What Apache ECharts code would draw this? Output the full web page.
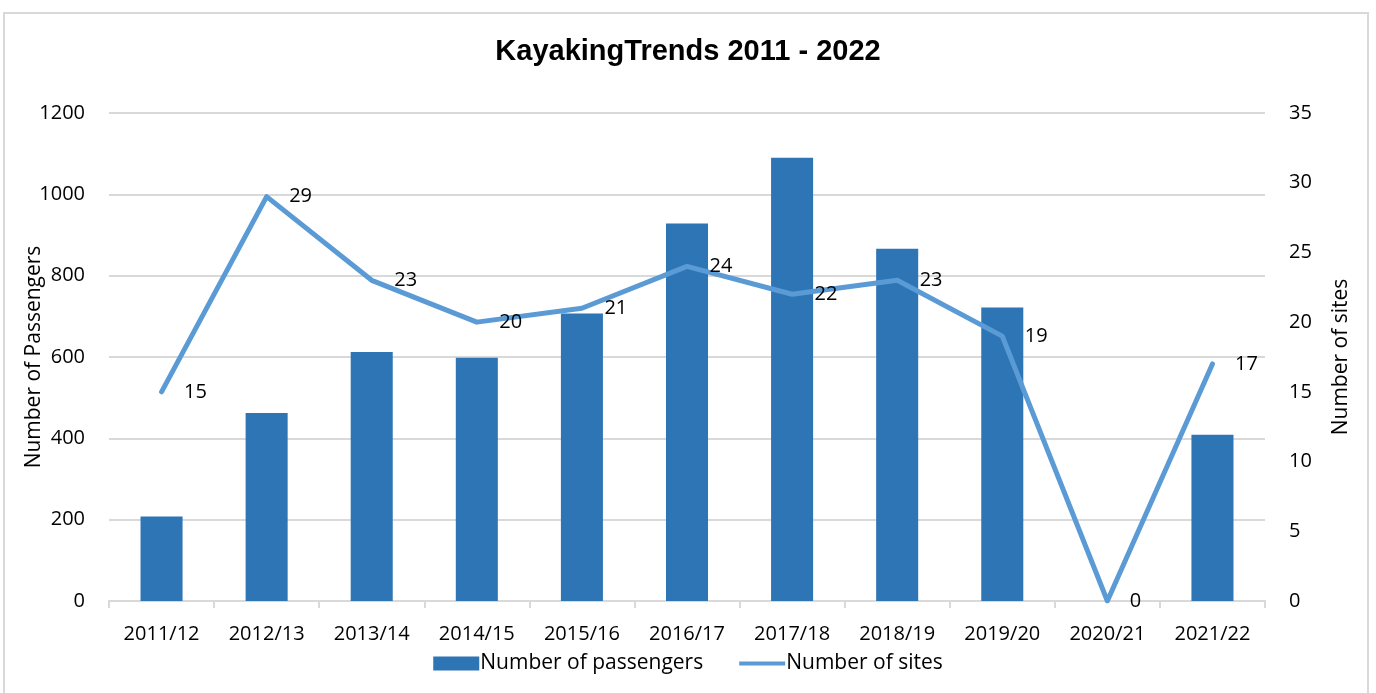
<!DOCTYPE html>
<html>
<head>
<meta charset="utf-8">
<script src="https://cdn.jsdelivr.net/npm/echarts@6/dist/echarts.min.js"></script>
<style>
    html, body { margin: 0; padding: 0; background: #fff; }
    #kayakChart { width: 1376px; height: 693px; }
    .frame {
        position: absolute; left: 3px; top: 12px; width: 1366px; height: 700px;
        border: 2px solid #d9d9d9; box-sizing: border-box; pointer-events: none;
    }
</style>
</head>
<body>
<div class="frame"></div>
<div id="kayakChart"></div>
<script>
    // 数据
    const seasons = ['2011/12', '2012/13', '2013/14', '2014/15', '2015/16', '2016/17', '2017/18', '2018/19', '2019/20', '2020/21', '2021/22']
    const passengers = [208, 462, 612, 598, 707, 928, 1090, 866, 722, 0, 409]
    const sites = [15, 29, 23, 20, 21, 24, 22, 23, 19, 0, 17]

    const labelFont = 'Open Sans'
    const textColor = '#000'

    const myChart = echarts.init(document.getElementById('kayakChart'))
    const option = {
        animation: false,
        title: {
            text: 'KayakingTrends 2011 - 2022',
            left: 'center',
            top: 32,
            textStyle: { fontFamily: 'Liberation Sans', fontWeight: 'bold', fontSize: 29, color: textColor }
        },
        // 固定网格位置，不让标签把网格挤开
        grid: { left: 109, right: 111, top: 113, bottom: 92, outerBoundsMode: 'none' },
        legend: {
            bottom: 14,
            left: 'center',
            itemGap: 36,
            itemWidth: 46,
            itemHeight: 14,
            textStyle: { fontFamily: labelFont, fontSize: 21, color: textColor, padding: [0, 0, 0, -4] },
            data: [
                { name: 'Number of passengers', icon: 'rect' },
                // 图例里的线条
                { name: 'Number of sites', icon: 'path://M0,0 L58,0 L58,5 L0,5 Z', itemStyle: { color: '#5b9bd5' } }
            ]
        },
        xAxis: {
            type: 'category',
            data: seasons,
            axisLine: { lineStyle: { color: '#d9d9d9', width: 2 } },
            axisTick: { show: true, length: 7, lineStyle: { color: '#d9d9d9', width: 2 } },
            axisLabel: { fontFamily: labelFont, fontSize: 20, color: textColor, margin: 23 }
        },
        yAxis: [
            {
                type: 'value', min: 0, max: 1200, interval: 200,
                name: 'Number of Passengers',
                nameLocation: 'middle',
                nameGap: 64,
                nameMoveOverlap: false,
                nameTextStyle: { fontFamily: labelFont, fontSize: 21, color: textColor },
                axisLabel: { fontFamily: labelFont, fontSize: 20, color: textColor, margin: 24, formatter: function (v) { return String(v) } },
                splitLine: { lineStyle: { color: '#d9d9d9', width: 2 } }
            },
            {
                type: 'value', min: 0, max: 35, interval: 5,
                name: 'Number of sites',
                nameLocation: 'middle',
                nameGap: 66,
                nameMoveOverlap: false,
                nameRotate: 90,
                nameTextStyle: { fontFamily: labelFont, fontSize: 21, color: textColor },
                axisLabel: { fontFamily: labelFont, fontSize: 20, color: textColor, margin: 24, formatter: function (v) { return String(v) } },
                splitLine: { show: false }
            }
        ],
        series: [
            {
                name: 'Number of passengers',
                type: 'bar',
                data: passengers,
                barWidth: '40%',
                itemStyle: { color: '#2e75b6' }
            },
            {
                name: 'Number of sites',
                type: 'line',
                yAxisIndex: 1,
                data: sites,
                symbol: 'circle',
                symbolSize: 1,
                showSymbol: true,
                lineStyle: { color: '#5b9bd5', width: 5, cap: 'round', join: 'round' },
                itemStyle: { color: '#5b9bd5' },
                label: {
                    show: true,
                    position: 'right',
                    distance: 22,
                    fontFamily: labelFont,
                    fontSize: 20,
                    color: textColor
                }
            }
        ]
    }
    myChart.setOption(option)
</script>
</body>
</html>
